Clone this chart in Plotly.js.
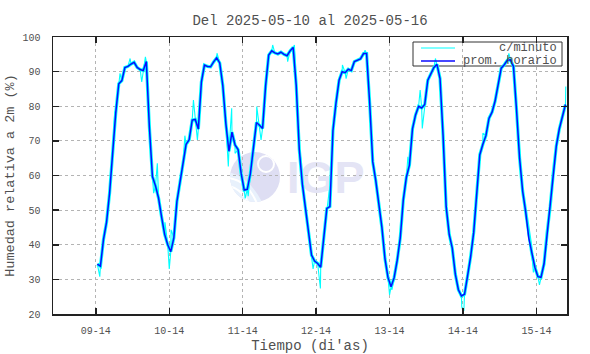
<!DOCTYPE html>
<html>
<head>
<meta charset="utf-8">
<script src="https://cdn.plot.ly/plotly-3.0.1.min.js"></script>
<style>html,body{margin:0;padding:0;background:#fff;}#chart{width:590px;height:354px;}</style>
</head>
<body>
<div id="chart"></div>
<script>
// Hours counted from day 09 00:00; hourly averages centred on the half hour
const firstHour = 14.5;
const hourlyRH = [
34.4,33.8,41.5,46.5,55,67.5,78,86.5,87.4,91.2,91.5,92.2,92.7,91.2,90.6,90.3,92.9,74,59.7,57,
53.5,48,43,40,38,42,52.5,58,63.5,69,70.3,76,76.2,73.4,87,91.9,91.5,91.4,92.8,94,
92.5,86,75,67,72.5,68.8,67.5,60.6,55.8,56,60.5,68.5,75.3,74.5,73.6,86,94.8,96,95.4,95.1,
95.6,95,94.6,96,97,86,67.5,57.5,51,43.5,37,35.3,34.6,33.5,42,50.5,51,73,81,87.5,
90,89.7,90.7,90.3,92.9,93.4,93.7,95.2,95.2,81,64,58.5,52,45,36,30.5,27.9,30.5,35.5,42,
53,59.5,63,73.5,77.5,80,79.5,80.5,87.5,89.5,91.2,92.1,88,71.5,51,43,39,31.5,27,25.2,
25.7,31,36.5,43.5,54,66,69,71.5,76.5,78.3,81.5,86.5,91,92,93.3,93.4,91.5,79,65,55.5,
49.5,42,37.5,33.5,30.8,30.6,34.5,43.5,51,60.5,68.5,73.5,77,80.5
];
// per-minute excursions (hour, value)
const minuteHours = [15.3,16.8,20.2,21.9,25.2,29.0,30.2,32.3,32.9,34.1,36.6,38.0,38.6,43.1,45.9,47.2,48.7,53.6,57.3,58.4,
59.5,62.8,63.8,66.6,68.0,71.8,76.7,78.9,81.2,85.0,87.4,90.3,94.6,95.8,102.0,107.2,110.0,110.8,116.0,120.0,
120.7,125.0,133.6,134.0,134.3,140.5,149.0,157.0,159.0,167.6];
const minuteRH = [30.8,44,78.5,89.5,93.8,87,94.3,62.6,54.9,63.5,46.5,33,44.3,71.5,81.8,70.3,89,95.3,62.6,79.4,
66.4,53.4,54,79.9,70.3,97.7,92.9,97.7,64,33,27.4,55.8,91.9,88,96.2,47.5,25.5,27,65.4,84.7,
73.6,93.8,22.1,20.8,21,72.2,95.3,32,28.4,85.7];
const tickHours = [14,38,62,86,110,134,158];
const tickLabels = ["09-14","10-14","11-14","12-14","13-14","14-14","15-14"];
const seriesNames = ["c/minuto","prom. horario"];
const seriesColors = ["#00ffff","#0a0aff"];

const hourlyX = hourlyRH.map((v,i)=>firstHour+i);
// merge hourly points with per-minute excursions for the minute trace
const pts = hourlyX.map((x,i)=>[x,hourlyRH[i]]).concat(minuteHours.map((x,i)=>[x,minuteRH[i]]));
pts.sort((a,b)=>a[0]-b[0]);
const minX = pts.map(p=>p[0]), minY = pts.map(p=>p[1]);

const mono = "'Liberation Mono', 'DejaVu Sans Mono', monospace";
const txt = '#505050';

const traces = [
  {x:hourlyX, y:hourlyRH, type:'scatter', mode:'lines', line:{color:seriesColors[0], width:3.2}, showlegend:false, hoverinfo:'skip'},
  {x:minX, y:minY, type:'scatter', mode:'lines', name:seriesNames[0], line:{color:seriesColors[0], width:1.1}, showlegend:false},
  {x:hourlyX, y:hourlyRH, type:'scatter', mode:'lines', name:seriesNames[1], line:{color:seriesColors[1], width:1.5}, showlegend:false}
];

const svg = "<svg xmlns='http://www.w3.org/2000/svg' width='140' height='56' viewBox='0 0 140 56'>"+
 "<defs><clipPath id='c'><circle cx='27' cy='27' r='25'/></clipPath></defs>"+
 "<circle cx='27' cy='27' r='25' fill='#dedef3'/>"+
 "<g clip-path='url(#c)'>"+
 "<path d='M0,22 Q22,26 36,56 L0,56 Z' fill='#e8f1fc'/>"+
 "<path d='M0,28 Q20,30 30,56' stroke='#fff' stroke-width='2' fill='none'/>"+
 "<path d='M0,36 Q14,38 22,56' stroke='#fff' stroke-width='2' fill='none'/>"+
 "<path d='M0,44 Q8,46 12,56' stroke='#fff' stroke-width='2' fill='none'/>"+
 "<circle cx='38' cy='14' r='8' fill='none' stroke='#fff' stroke-width='2'/>"+
 "</g>"+
 "<text x='59' y='43' font-family='Liberation Sans, Arial, sans-serif' font-weight='bold' font-size='45' fill='#e4e4f5'>IGP</text>"+
 "</svg>";

// legend drawn in pixel positions of the reference (converted to paper units)
const PX = x=>(x-53)/514, PY = y=>(314-y)/277;
const legendShapes = [
  {type:'rect', xref:'paper', yref:'paper', x0:PX(413), x1:PX(562), y0:PY(66), y1:PY(42), line:{color:'#333', width:1}, fillcolor:'rgba(255,255,255,0)', layer:'below'},
  {type:'line', xref:'paper', yref:'paper', x0:PX(421), x1:PX(455), y0:PY(48), y1:PY(48), line:{color:seriesColors[0], width:1}},
  {type:'line', xref:'paper', yref:'paper', x0:PX(421), x1:PX(455), y0:PY(61), y1:PY(61), line:{color:seriesColors[1], width:1.5}}
];
const legendNotes = seriesNames.map((n,i)=>({text:n, xref:'paper', yref:'paper', x:PX(559), y:PY(i?61:48), xanchor:'right', yanchor:'middle',
  showarrow:false, font:{family:mono, size:12, color:txt}}));

const layout = {
  width:590, height:354,
  margin:{l:53, r:23, t:37, b:40},
  paper_bgcolor:'#fff', plot_bgcolor:'rgba(0,0,0,0)',
  title:{text:'Del 2025-05-10 al 2025-05-16', font:{family:mono, size:14, color:txt}, x:0.5, xref:'paper', y:1-20/354, yref:'container', yanchor:'middle'},
  xaxis:{range:[0,168], tickmode:'array', tickvals:tickHours, ticktext:tickLabels,
    ticks:'inside', ticklen:6, tickwidth:1.5, tickcolor:'#222', mirror:'allticks', showline:true, linecolor:'#222', linewidth:1.5,
    showgrid:true, gridcolor:'#b4b4b4', griddash:'dot', gridwidth:1, zeroline:false,
    tickfont:{family:mono, size:10, color:txt}, ticklabelstandoff:6,
    title:{text:"Tiempo (di'as)", font:{family:mono, size:14, color:txt}, standoff:6}},
  yaxis:{range:[20,100], dtick:10, tick0:20,
    ticks:'inside', ticklen:6, tickwidth:1.5, tickcolor:'#222', mirror:'allticks', showline:true, linecolor:'#222', linewidth:1.5,
    showgrid:true, gridcolor:'#b4b4b4', griddash:'dot', gridwidth:1, zeroline:false,
    tickfont:{family:mono, size:10, color:txt}, ticklabelstandoff:9,
    title:{text:'Humedad relativa a 2m (%)', font:{family:mono, size:13.5, color:txt}, standoff:5}},
  shapes:legendShapes,
  annotations:legendNotes,
  images:[{source:'data:image/svg+xml;charset=utf-8,'+encodeURIComponent(svg), xref:'paper', yref:'paper',
    x:PX(228), y:PY(150), sizex:140/514, sizey:56/277, xanchor:'left', yanchor:'top', sizing:'stretch', layer:'below'}],
  showlegend:false
};
Plotly.newPlot('chart', traces, layout, {displayModeBar:false, staticPlot:true});
</script>
</body>
</html>
